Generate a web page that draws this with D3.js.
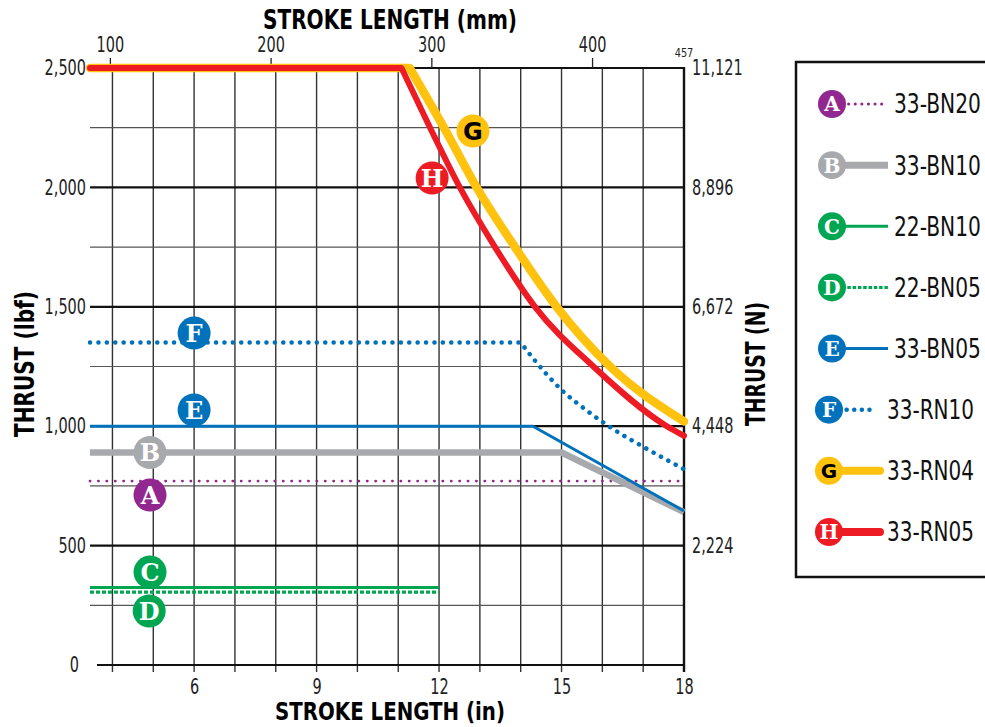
<!DOCTYPE html>
<html>
<head>
<meta charset="utf-8">
<script src="https://cdn.jsdelivr.net/npm/d3@7"></script>
<style>
  body { margin: 0; background: #fff; }
  svg text { font-family: "Liberation Sans Narrow", "DejaVu Sans Condensed", "Arial Narrow", sans-serif; font-stretch: condensed; }
</style>
</head>
<body>
<svg id="chart" width="985" height="727"></svg>
<script>
// ---- data (x = stroke length in inches, y = thrust in lbf) ----
var seriesNames = ["33-BN20", "33-BN10", "22-BN10", "22-BN05", "33-BN05", "33-RN10", "33-RN04", "33-RN05"];
var seriesLetters = ["A", "B", "C", "D", "E", "F", "G", "H"];
var seriesA = [[3.45, 770], [18, 770]];
var seriesB = [[3.45, 890], [15, 890], [18, 640]];
var seriesC = [[3.45, 325], [12, 325]];
var seriesD = [[3.45, 305], [12, 305]];
var seriesE = [[3.45, 1000], [14.3, 1000], [18, 645]];
var seriesF = [[3.45, 1350], [14.0, 1350], [14.3, 1285], [15, 1152], [15.6, 1068], [16.3, 984], [17, 914], [18, 820]];
var seriesG = [[3.45, 2500], [11.28, 2500], [12.12, 2250], [12.92, 2000], [13.86, 1750], [14.88, 1500], [16.19, 1250], [18, 1020]];
var seriesH = [[3.45, 2500], [11.08, 2500], [11.78, 2250], [12.51, 2000], [13.37, 1750], [14.35, 1500], [15.78, 1250], [17.58, 1000], [18, 960]];
// badge positions in the plot (inches, lbf)
var badgeX = [4.92, 4.92, 4.92, 4.9, 6.0, 6.0, 12.83, 11.83];
var badgeY = [712, 890, 389, 226, 1068, 1390, 2236, 2039];
// tick labels
var inchTicks = [4, 5, 6, 7, 8, 9, 10, 11, 12, 13, 14, 15, 16, 17, 18];
var inchLabels = [6, 9, 12, 15, 18];
var lbfTicks = [0, 500, 1000, 1500, 2000, 2500];
var lbfMinor = [250, 750, 1250, 1750, 2250];
var mmTicks = [100, 200, 300, 400];
var newtonTicks = [2224, 4448, 6672, 8896, 11121];

var colors = ["#92278F", "#A7A9AC", "#00A651", "#00A651", "#0072BC", "#0072BC", "#FFC20E", "#ED1C24"];
var widths = [2.8, 6.5, 3, 3.2, 3, 4.5, 8.5, 6];
var dashes = ["0.1 8.3", null, null, "4 2", null, "0.1 8.3", null, null];
var caps = ["round", "butt", "butt", "butt", "butt", "round", "round", "round"];
var allSeries = [seriesA, seriesB, seriesC, seriesD, seriesE, seriesF, seriesG, seriesH];
var curved = [false, false, false, false, false, true, true, true];

var svg = d3.select("#chart");

var xScale = d3.scaleLinear().domain([3.45, 18]).range([90, 684]);
var yScale = d3.scaleLinear().domain([0, 2500]).range([665, 68]);
var mmScale = d3.scaleLinear().domain([3.45 * 25.4, 18 * 25.4]).range([90, 684]);
var nScale = d3.scaleLinear().domain([0, 2500 * 4.448]).range([665, 68]);

// squeeze text to the narrow width of the original face
function fitText(sel, digitW){
  sel.each(function(){
    var t = d3.select(this).text();
    var w = 0;
    for (var k = 0; k < t.length; k++) w += (t[k] === "," ? digitW * 0.5 : digitW);
    d3.select(this).attr("textLength", w).attr("lengthAdjust", "spacingAndGlyphs");
  });
}

// grid
var grid = svg.append("g");
grid.selectAll(".vgrid")
  .data(inchTicks.filter(function(d){ return d < 18; }))
  .enter().append("line")
  .attr("x1", function(d){ return xScale(d); }).attr("x2", function(d){ return xScale(d); })
  .attr("y1", yScale(2500)).attr("y2", yScale(0) + 7)
  .attr("stroke", "#333").attr("stroke-width", 1.4);
grid.selectAll(".minor")
  .data(lbfMinor)
  .enter().append("line")
  .attr("x1", xScale(3.45)).attr("x2", xScale(18))
  .attr("y1", function(d){ return yScale(d); }).attr("y2", function(d){ return yScale(d); })
  .attr("stroke", "#555").attr("stroke-width", 1.2);
grid.selectAll(".major")
  .data(lbfTicks)
  .enter().append("line")
  .attr("x1", function(d){ return d === 0 ? xScale(3.45) + 7 : xScale(3.45); })
  .attr("x2", xScale(18))
  .attr("y1", function(d){ return yScale(d); }).attr("y2", function(d){ return yScale(d); })
  .attr("stroke", "#111").attr("stroke-width", 2.2);
// right border
grid.append("line")
  .attr("x1", xScale(18)).attr("x2", xScale(18))
  .attr("y1", yScale(2500) - 1).attr("y2", yScale(0) + 7)
  .attr("stroke", "#111").attr("stroke-width", 2.4);

// axes
var bottomAxis = d3.axisBottom(xScale).tickValues(inchLabels).tickSize(0).tickPadding(14);
var gb = svg.append("g").attr("transform", "translate(0," + yScale(0) + ")").call(bottomAxis);
var leftAxis = d3.axisLeft(yScale).tickValues(lbfTicks).tickSize(0).tickPadding(4).tickFormat(d3.format(","));
var gl = svg.append("g").attr("transform", "translate(" + xScale(3.45) + ",0)").call(leftAxis);
var rightAxis = d3.axisRight(nScale).tickValues(newtonTicks).tickSize(0).tickPadding(8).tickFormat(d3.format(","));
var gr = svg.append("g").attr("transform", "translate(" + xScale(18) + ",0)").call(rightAxis);
var topAxis = d3.axisTop(mmScale).tickValues(mmTicks).tickSize(10).tickPadding(6);
var gt = svg.append("g").attr("transform", "translate(0," + yScale(2500) + ")").call(topAxis);

[gb, gl, gr, gt].forEach(function(g){
  g.select(".domain").remove();
  g.selectAll("text").attr("font-size", 21).attr("fill", "#222").attr("font-weight", 300)
    .call(fitText, 9.2);
  g.selectAll(".tick line").attr("stroke", "#222").attr("stroke-width", 1.3);
});
gl.selectAll(".tick").filter(function(d){ return d === 0; }).select("text").attr("x", -11);

// "457" marker at the end of the mm axis
svg.append("text")
  .attr("x", mmScale(457.2)).attr("y", 57)
  .attr("text-anchor", "middle").attr("font-size", 12).attr("fill", "#222")
  .attr("textLength", 18.6).attr("lengthAdjust", "spacingAndGlyphs")
  .text("457");

// titles
svg.append("text").attr("x", 390).attr("y", 29).attr("text-anchor", "middle")
  .attr("font-size", 26).attr("font-weight", "bold").attr("textLength", 254).attr("lengthAdjust", "spacingAndGlyphs")
  .text("STROKE LENGTH (mm)");
svg.append("text").attr("x", 390).attr("y", 720).attr("text-anchor", "middle")
  .attr("font-size", 25).attr("font-weight", "bold").attr("textLength", 230).attr("lengthAdjust", "spacingAndGlyphs")
  .text("STROKE LENGTH (in)");
svg.append("text").attr("transform", "translate(34,364) rotate(-90)").attr("text-anchor", "middle")
  .attr("font-size", 26).attr("font-weight", "bold").attr("textLength", 146).attr("lengthAdjust", "spacingAndGlyphs")
  .text("THRUST (lbf)");
svg.append("text").attr("transform", "translate(765,364) rotate(-90)").attr("text-anchor", "middle")
  .attr("font-size", 26).attr("font-weight", "bold").attr("textLength", 124).attr("lengthAdjust", "spacingAndGlyphs")
  .text("THRUST (N)");

// series lines
var straight = d3.line().x(function(d){ return xScale(d[0]); }).y(function(d){ return yScale(d[1]); });
var smooth = d3.line().x(function(d){ return xScale(d[0]); }).y(function(d){ return yScale(d[1]); }).curve(d3.curveMonotoneX);
var lines = svg.append("g");
allSeries.forEach(function(pts, i){
  var d = curved[i] ? straight(pts.slice(0, 2)) + smooth(pts.slice(1)).replace(/^M[^LC]*/, "") : straight(pts);
  lines.append("path")
    .attr("d", d)
    .attr("fill", "none")
    .attr("stroke", colors[i])
    .attr("stroke-width", widths[i])
    .attr("stroke-linecap", caps[i])
    .attr("stroke-linejoin", "round")
    .attr("stroke-dasharray", dashes[i]);
});

// badges
function badge(g, cx, cy, r, i, fs){
  g.append("circle").attr("cx", cx).attr("cy", cy).attr("r", r).attr("fill", colors[i]);
  g.append("text").attr("x", cx).attr("y", cy).attr("dy", "0.37em")
    .attr("text-anchor", "middle").attr("font-size", fs).attr("font-weight", "bold")
    .style("font-family", i === 6 ? '"DejaVu Sans", sans-serif' : '"DejaVu Serif", serif')
    .style("font-stretch", "normal")
    .attr("fill", i === 6 ? "#000" : "#fff")
    .text(seriesLetters[i]);
}
var badges = svg.append("g");
seriesLetters.forEach(function(l, i){
  badge(badges, xScale(badgeX[i]), yScale(badgeY[i]), 16.5, i, 24);
});

// legend
var legend = svg.append("g");
legend.append("rect").attr("x", 796).attr("y", 62).attr("width", 220).attr("height", 515)
  .attr("fill", "#fff").attr("stroke", "#111").attr("stroke-width", 2.5);
var legendY = d3.scalePoint().domain(seriesNames).range([104, 532]);
seriesNames.forEach(function(name, i){
  var yy = legendY(name);
  var short = i >= 5;
  var bx = short ? 829 : 832;
  var lineEnd = i === 5 ? 877 : (short ? 880 : 888);
  legend.append("line")
    .attr("x1", bx + 10).attr("x2", lineEnd).attr("y1", yy).attr("y2", yy)
    .attr("stroke", colors[i])
    .attr("stroke-width", i === 1 ? 7 : (i >= 6 ? 8 : (i === 5 ? 4.5 : 3)))
    .attr("stroke-linecap", (i === 0 || i >= 5) ? "round" : "butt")
    .attr("stroke-dasharray", i === 0 ? "0.1 6.5" : (i === 3 ? "3.5 1.8" : (i === 5 ? "0.1 7.5" : null)));
  badge(legend, bx, yy, 14, i, 20);
  var lt = legend.append("text").attr("x", 0).attr("y", 0).attr("dy", "0.36em")
    .attr("font-size", 26).attr("fill", "#111").attr("font-weight", 300)
    .text(name);
  var natural = lt.node().getComputedTextLength();
  lt.attr("transform", "translate(" + (short ? 887 : 894) + "," + yy + ") scale(" + (87 / natural) + ",1)");
});
</script>
</body>
</html>
